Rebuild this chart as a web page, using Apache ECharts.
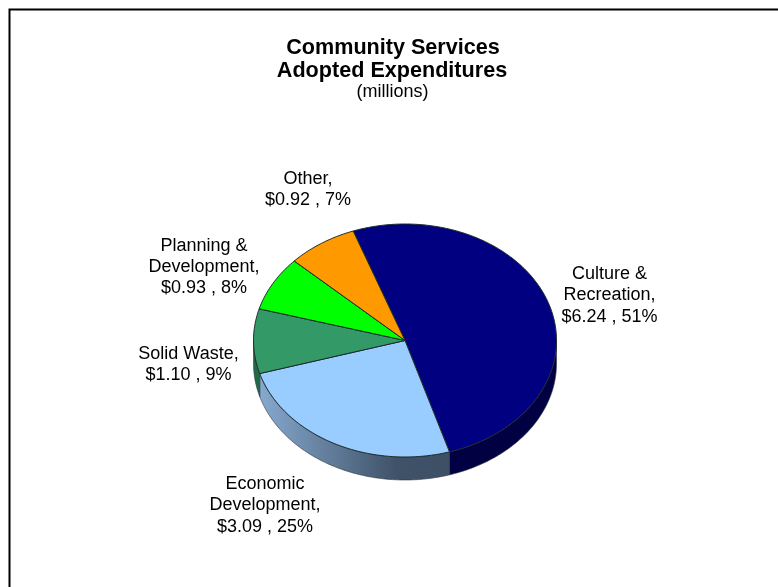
<!DOCTYPE html>
<html><head><meta charset="utf-8">
<style>html,body{margin:0;padding:0;background:#fff}#c{width:778px;height:587px}</style>
<script src="https://cdn.jsdelivr.net/npm/echarts@6/dist/echarts.min.js"></script>
</head><body><div id="c"></div>
<script>
const categories = ['Culture &\nRecreation', 'Economic\nDevelopment', 'Solid Waste', 'Planning &\nDevelopment', 'Other'];
const amounts = [6.24, 3.09, 1.10, 0.93, 0.92];
const percents = [51, 25, 9, 8, 7];
const sliceColors = ['#000080', '#99ccff', '#339966', '#00ff00', '#ff9900'];

const F = '"Liberation Sans", Arial, sans-serif';
const pie = { cx: 405, cy: 340.5, rx: 151.5, ry: 116.5, depth: 23, start: -20 };
const labelAnchors = [[609.5, 274], [265, 484], [188.5, 354], [204, 245.5], [308, 179]];
const total = amounts.reduce((a, b) => a + b, 0);
const wallFill = [
  '#000042',
  new echarts.graphic.LinearGradient(0, 0, 1, 0, [{offset: 0, color: '#86a9cf'}, {offset: 0.72, color: '#3f5268'}, {offset: 1, color: '#3d5066'}]),
  '#1f6b45', '#00a000', '#a06000'
];
function pt(deg, dy) {
  const t = deg * Math.PI / 180;
  return [pie.cx + pie.rx * Math.sin(t), pie.cy - pie.ry * Math.cos(t) + (dy || 0)];
}
function arc(a, b, dy) {
  const out = [], n = Math.max(2, Math.ceil(Math.abs(b - a)));
  for (let i = 0; i <= n; i++) out.push(pt(a + (b - a) * i / n, dy));
  return out;
}
function renderItem(params, api) {
  const i = params.dataIndex;
  let before = 0;
  for (let k = 0; k < i; k++) before += amounts[k];
  const a = pie.start + before / total * 360, b = a + amounts[i] / total * 360;
  const children = [];
  const lo = Math.max(a, 90), hi = Math.min(b, 270);
  if (hi > lo) {
    children.push({
      type: 'polygon', z2: 1,
      shape: { points: arc(lo, hi, 0).concat(arc(hi, lo, pie.depth)) },
      style: { fill: wallFill[i], stroke: '#333340', lineWidth: 0.6 }
    });
  }
  children.push({
    type: 'polygon', z2: 2,
    shape: { points: [[pie.cx, pie.cy]].concat(arc(a, b, 0)) },
    style: { fill: sliceColors[i], stroke: '#1c2a2a', lineWidth: 1 }
  });
  const text = categories[i] + ',\n$' + amounts[i].toFixed(2) + ' , ' + percents[i] + '%';
  children.push({
    type: 'text', z2: 3, x: labelAnchors[i][0], y: labelAnchors[i][1] - 10.5,
    style: { text, fill: '#000', font: '18px ' + F, align: 'center', verticalAlign: 'top', lineHeight: 21.3 }
  });
  return { type: 'group', children };
}
const chart = echarts.init(document.getElementById('c'), null, { renderer: 'canvas' });
chart.setOption({
  animation: false,
  backgroundColor: '#fff',
  graphic: [
    { type: 'rect', shape: { x: 9.5, y: 9.5, width: 800, height: 620 }, style: { fill: 'none', stroke: '#000', lineWidth: 2 }, silent: true },
    { type: 'text', x: 393, y: 37, style: { text: 'Community Services', fill: '#000', font: 'bold 21.6px ' + F, align: 'center' } },
    { type: 'text', x: 392, y: 60, style: { text: 'Adopted Expenditures', fill: '#000', font: 'bold 21.6px ' + F, align: 'center' } },
    { type: 'text', x: 392.5, y: 83, style: { text: '(millions)', fill: '#000', font: '18px ' + F, align: 'center' } }
  ],
  series: [{ type: 'custom', coordinateSystem: 'none', renderItem, data: amounts.map((v, i) => ({ name: categories[i], value: v })) }]
});
</script></body></html>
